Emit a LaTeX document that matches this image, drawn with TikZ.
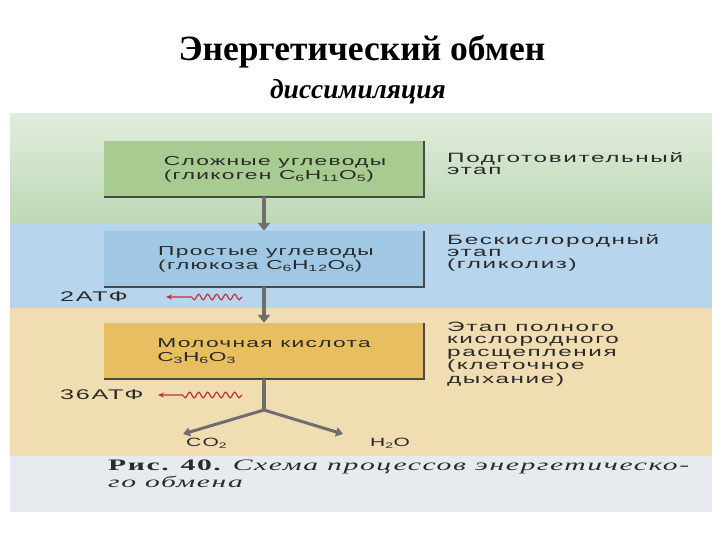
\documentclass[tikz,border=0pt]{standalone}
\usepackage{fontspec}
\usepackage{xcolor}
\setmainfont{Liberation Serif}
\newfontfamily\schemefont[FakeStretch=1.75,LetterSpace=10]{Liberation Sans}
\newfontfamily\stagefont[FakeStretch=1.8,LetterSpace=12]{Liberation Sans}
\newfontfamily\capfont[FakeStretch=1.85,LetterSpace=10]{Liberation Serif}
\usetikzlibrary{arrows.meta,decorations.pathmorphing,positioning}

\definecolor{greenTop}{HTML}{E2ECDC}
\definecolor{greenBand}{HTML}{BCD9B6}
\definecolor{greenBox}{HTML}{A8CB92}
\definecolor{blueBand}{HTML}{B7D6EE}
\definecolor{blueBox}{HTML}{A0C7E3}
\definecolor{sandBand}{HTML}{F1DDB2}
\definecolor{sandBox}{HTML}{E8BF60}
\definecolor{capBand}{HTML}{E7EBEF}
\definecolor{inkGray}{HTML}{2A2A2A}
\definecolor{shaftGray}{HTML}{6E6E6E}
\definecolor{waveRed}{HTML}{C0303A}

\begin{document}
\begin{tikzpicture}[x=1pt,y=-1pt,
  box/.style={rectangle, inner sep=0pt, minimum width=320pt, minimum height=56pt,
    align=left, text=inkGray, font=\schemefont\fontsize{13}{14}\selectfont},
  stage/.style={anchor=north west, inner sep=0pt, align=left, text=inkGray,
    font=\stagefont\fontsize{13.5}{12.3}\selectfont},
  atp/.style={inner sep=0pt, anchor=west, text=inkGray,
    font=\stagefont\fontsize{14}{14}\selectfont},
  product/.style={inner sep=0pt, anchor=west, text=inkGray,
    font=\schemefont\fontsize{12}{12}\selectfont},
  edge/.style={draw=inkGray!85, line width=2.5pt},
  shaft/.style={draw=shaftGray, line width=4pt, -{Triangle[width=12pt,length=8pt]}},
  branch/.style={draw=shaftGray, line width=3pt, -{Triangle[width=9pt,length=7pt]}},
  wave/.style={draw=waveRed, line width=1.2pt, -{Stealth[length=6pt,width=5pt]},
    decorate, decoration={snake, amplitude=2.8pt, segment length=9pt, post length=24pt}}]
  \useasboundingbox (0,0) rectangle (720,540);
  \fill[white] (0,0) rectangle (720,540);
  % title
  \node (title) at (362,52) {\fontsize{35.5}{40}\selectfont\bfseries Энергетический обмен};
  \node (subtitle) at (358,92) {\fontsize{27.5}{32}\selectfont\bfseries\itshape диссимиляция};
  % bands
  \shade[top color=greenTop, bottom color=greenBand] (10,114) rectangle (712,224);
  \fill[blueBand] (10,224) rectangle (712,308);
  \fill[sandBand] (10,308) rectangle (712,456);
  \fill[capBand] (10,456) rectangle (712,512);
  % boxes
  \node[box, fill=greenBox] (glycogen) at (264,169)
    {\hspace*{22pt}Сложные углеводы\\\hspace*{22pt}(гликоген C\textsubscript{6}H\textsubscript{11}O\textsubscript{5})};
  \node[box, fill=blueBox] (glucose) at (264,259)
    {\hspace*{4pt}Простые углеводы\\\hspace*{4pt}(глюкоза C\textsubscript{6}H\textsubscript{12}O\textsubscript{6})};
  \node[box, fill=sandBox] (lactic) at (264,351)
    {Молочная кислота\\C\textsubscript{3}H\textsubscript{6}O\textsubscript{3}};
  \draw[edge] (glycogen.south west) -- (glycogen.south east) -- (glycogen.north east);
  \draw[edge] (glucose.south west) -- (glucose.south east) -- (glucose.north east);
  \draw[edge] (lactic.south west) -- (lactic.south east) -- (lactic.north east);
  % stages
  \node[stage] (prep) at (447,152) {Подготовительный\\этап};
  \node[stage] (anaer) at (447,234) {Бескислородный\\этап\\(гликолиз)};
  \node[stage] (aer) at (447,322) {Этап полного\\кислородного\\расщепления\\(клеточное\\дыхание)};
  % arrows down
  \draw[shaft] (glycogen.south) -- (glucose.north);
  \draw[shaft] (glucose.south) -- (lactic.north);
  \coordinate (fork) at (264,410);
  \draw[draw=shaftGray, line width=4pt] (lactic.south) -- (fork);
  \coordinate (co2tip) at (183,434);
  \coordinate (h2otip) at (343,434);
  \draw[branch] (fork) -- (co2tip);
  \draw[branch] (fork) -- (h2otip);
  \node[product] (co2) at (186,443) {CO\textsubscript{2}};
  \node[product] (h2o) at (370,443) {H\textsubscript{2}O};
  % ATP
  \node[atp] (atp2) at (60,297) {2АТФ};
  \coordinate (w2s) at (242,297);
  \coordinate (w2e) at (166,297);
  \draw[wave] (w2s) -- (w2e);
  \node[atp] (atp36) at (60,395) {36АТФ};
  \coordinate (w36s) at (242,395);
  \coordinate (w36e) at (158,395);
  \draw[wave] (w36s) -- (w36e);
  % caption
  \node[anchor=west, inner sep=0pt, align=left, text=inkGray,
    font=\capfont\fontsize{16}{17}\selectfont] (caption) at (108,474)
    {{\bfseries Рис. 40.} \itshape Схема процессов энергетическо-\\\itshape го обмена};
\end{tikzpicture}
\end{document}
